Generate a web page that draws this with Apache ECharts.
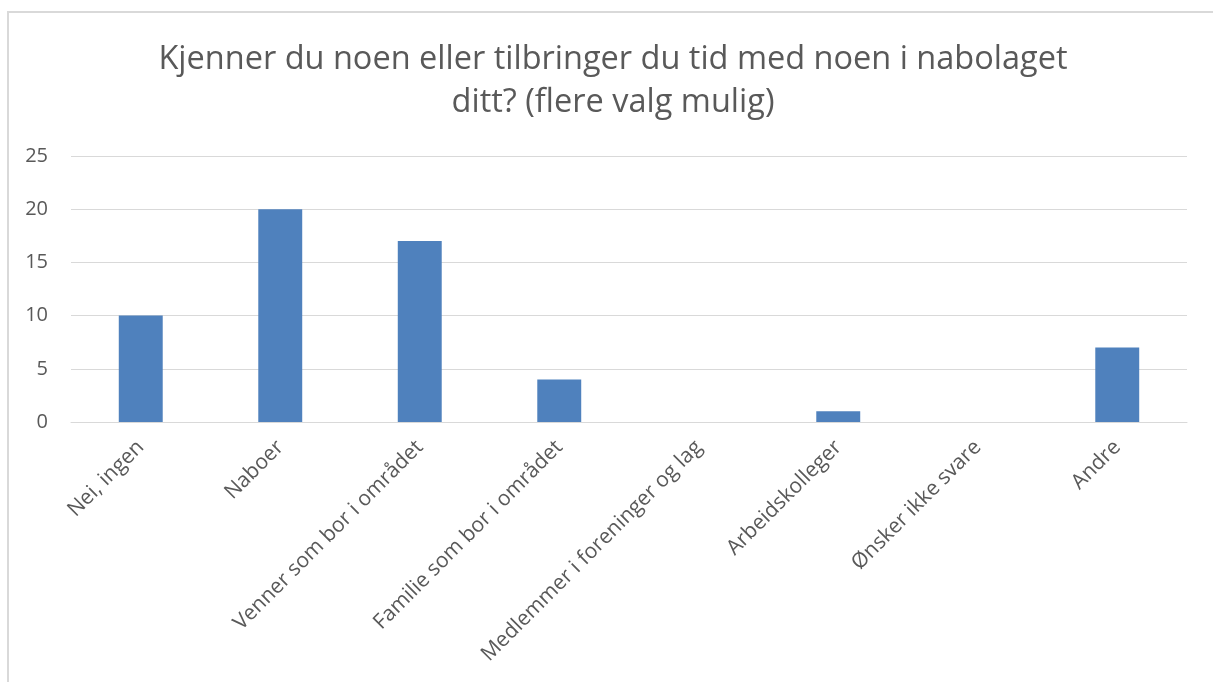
<!DOCTYPE html>
<html>
<head>
<meta charset="utf-8">
<script src="https://cdn.jsdelivr.net/npm/echarts@6/dist/echarts.min.js"></script>
<style>
  html, body { margin: 0; padding: 0; background: #fff; }
  #frame { position: absolute; left: 7px; top: 11px; width: 1220px; height: 700px;
           border-left: 2px solid #d9d9d9; border-top: 2px solid #d9d9d9; }
  #main { position: absolute; left: 0; top: 0; width: 1213px; height: 682px; }
</style>
</head>
<body>
<div id="frame"></div>
<div id="main"></div>
<script>
var categories = ['Nei, ingen', 'Naboer', 'Venner som bor i området', 'Familie som bor i området',
    'Medlemmer i foreninger og lag', 'Arbeidskolleger', 'Ønsker ikke svare', 'Andre'];
var values = [10, 20, 17, 4, 0, 1, 0, 7];
var yTicks = [0, 5, 10, 15, 20, 25];

var textColor = '#595959';
var font = 'Open Sans';

var myChart = echarts.init(document.getElementById('main'));

option = {
    title: {
        text: 'Kjenner du noen eller tilbringer du tid med noen i nabolaget\nditt? (flere valg mulig)',
        left: 608,
        top: 33,
        textAlign: 'center',
        textStyle: {
            color: textColor,
            fontFamily: font,
            fontWeight: 'normal',
            fontSize: 32.5,
            lineHeight: 43
        }
    },
    grid: {
        left: 71,
        right: 26,
        top: 156,
        bottom: 260
    },
    xAxis: {
        type: 'category',
        data: categories,
        axisTick: { show: false },
        axisLine: {
            lineStyle: { color: '#d9d9d9', width: 1 }
        },
        axisLabel: {
            interval: 0,
            rotate: 45,
            margin: 22,
            color: textColor,
            fontFamily: font,
            fontSize: 21
        }
    },
    yAxis: {
        type: 'value',
        min: yTicks[0],
        max: yTicks[yTicks.length - 1],
        interval: 5,
        axisLine: { show: false },
        axisTick: { show: false },
        splitLine: {
            lineStyle: { color: '#d9d9d9', width: 1 }
        },
        axisLabel: {
            margin: 23,
            color: textColor,
            fontFamily: font,
            fontSize: 20
        }
    },
    series: [{
        type: 'bar',
        data: values,
        barWidth: '31.5%',
        itemStyle: { color: '#4f81bd' },
        silent: true
    }],
    animation: false
};

myChart.setOption(option);
</script>
</body>
</html>
